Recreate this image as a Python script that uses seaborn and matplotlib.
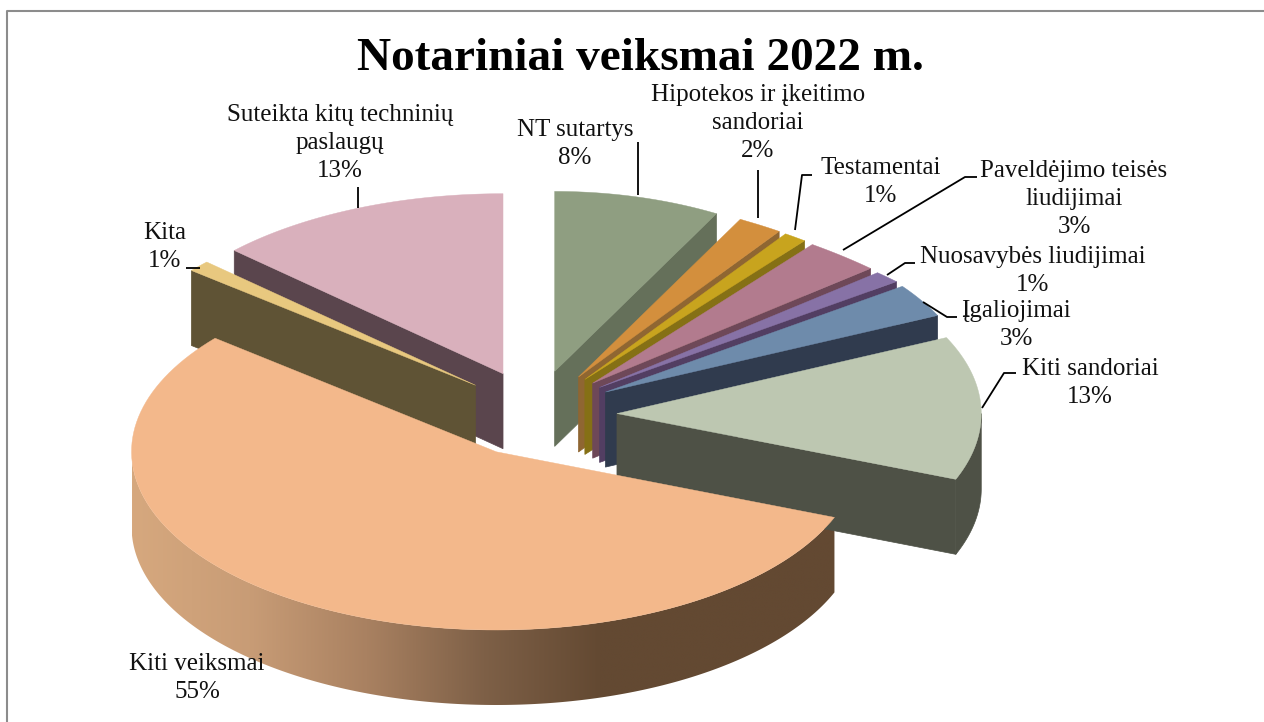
# Notariniai veiksmai 2022 m. - exploded 3D pie drawn on a pixel sized axes
import numpy as np
import matplotlib
matplotlib.use("Agg")
import matplotlib.pyplot as plt
from matplotlib.patches import Polygon
import seaborn as sns

# chart data
names = ["NT sutartys", "Hipotekos ir įkeitimo\nsandoriai", "Testamentai",
         "Paveldėjimo teisės\nliudijimai", "Nuosavybės liudijimai", "Įgaliojimai",
         "Kiti sandoriai", "Kiti veiksmai", "Kita",
         "Suteikta kitų techninių\npaslaugų"]
values = [8, 2, 1, 3, 1, 3, 13, 55, 1, 13]
title = "Notariniai veiksmai 2022 m."

# styles for each slice
top_colors = ["#8F9E81", "#D38F3D", "#C8A41E", "#B27B8E", "#8772A6",
              "#6E8BAB", "#BDC7B1", "#F3B88B", "#E8C87F", "#D9B0BC"]
wall_colors = ["#65705A", "#8F6632", "#857015", "#6E4858", "#523E62",
               "#303B4E", "#4E5146", "#634932", "#5F5335", "#5A454D"]
explode = [1, 1, 1, 1, 1, 1, 1, 0.95, 1, 1]
radius = [1, 1, 1, 1, 1, 1, 0.992, 0.99, 1, 1]
draw_order = [9, 0, 1, 2, 3, 4, 5, 8, 6, 7]

# label centres and leader lines, in pixels
label_xy = [(575, 144), (758, 123), (881, 182), (1074, 199), (1033, 271),
            (1016, 325), (1090, 383), (197, 678), (165, 247), (340, 143)]
leaders = [[(638, 142), (638, 195)],
           [(758, 170), (758, 218)],
           [(812, 175), (802, 175), (795, 230)],
           [(977, 177), (965, 177), (843, 250)],
           [(915, 263), (905, 263), (887, 275)],
           [(957, 317), (947, 317), (923, 302)],
           [(1016, 373), (1004, 373), (982, 408)],
           [(186, 268), (200, 268)],
           [(358, 187), (358, 208)]]

centre = (534, 415)
explode_right, explode_left, explode_y = 83, 78, 45
ry = 180
height = 75

sns.set_theme(style="white")
plt.rcParams["font.family"] = ["Liberation Serif", "DejaVu Serif"]

fig = plt.figure(figsize=(12.64, 7.22), dpi=100)
ax = fig.add_axes([0, 0, 1, 1])
ax.set_xlim(0, 1264)
ax.set_ylim(722, 0)
ax.axis("off")

# thin chart frame
ax.plot([7, 7, 1264], [722, 11, 11], color="#8C8C8C", lw=1.5)

gradient = sns.blend_palette(["#D6A87E", "#C89C76", "#A98161", "#7E6047", "#634932",
                              "#634932", "#634932"], 256)


def arc(apex, theta, scale):
    # the back right of the pie is a little narrower
    rx = np.interp(theta, [0, 30, 40, 50, 54, 360], [334, 336, 345, 360, 367, 369])
    return (apex[0] + scale * rx * np.sin(np.radians(theta)),
            apex[1] - scale * ry * np.cos(np.radians(theta)))


edges = np.cumsum([0] + values) / sum(values) * 360

for i in draw_order:
    start, end = edges[i], edges[i + 1]
    mid = np.radians((start + end) / 2)
    spread = explode_right if np.sin(mid) > 0 else explode_left
    apex = (centre[0] + explode[i] * spread * np.sin(mid),
            centre[1] - explode[i] * explode_y * np.cos(mid))

    # cut faces that look towards the viewer
    for theta, visible in [(start, np.sin(np.radians(start)) < -1e-6),
                           (end, np.sin(np.radians(end)) > 1e-6)]:
        if visible:
            ox, oy = arc(apex, theta, radius[i])
            ax.fill([apex[0], ox, ox, apex[0]],
                    [apex[1], oy, oy + height, apex[1] + height],
                    color=wall_colors[i], lw=0.5)

    # rim, only the front half can be seen
    lo, hi = max(start, 90), min(end, 270)
    if lo < hi:
        thetas = np.linspace(lo, hi, 200)
        xs, ys = arc(apex, thetas, radius[i])
        rim = np.c_[np.r_[xs, xs[::-1]], np.r_[ys, ys[::-1] + height]]
        if i == 7:
            # biggest slice gets the light to dark shading of the original
            shade = ax.imshow(np.array(gradient)[None, :, :], aspect="auto",
                              extent=[xs.min(), xs.max(), rim[:, 1].max(), rim[:, 1].min()],
                              interpolation="bilinear")
            shade.set_clip_path(Polygon(rim, transform=ax.transData))
            ax.set_xlim(0, 1264)
            ax.set_ylim(722, 0)
        else:
            ax.fill(rim[:, 0], rim[:, 1], color=wall_colors[i], lw=0.5)

    # top face
    thetas = np.linspace(start, end, 120)
    xs, ys = arc(apex, thetas, radius[i])
    ax.fill(np.r_[apex[0], xs], np.r_[apex[1], ys], color=top_colors[i], lw=0.3)

for line in leaders:
    pts = np.array(line)
    ax.plot(pts[:, 0], pts[:, 1], color="black", lw=1.3, solid_capstyle="butt")

for name, val, (x, y) in zip(names, values, label_xy):
    ax.text(x, y, f"{name}\n{val}%", ha="center", va="center", fontsize=18,
            color="#111111", linespacing=1.38)

ax.text(640, 59, title, ha="center", va="center", fontsize=34, fontweight="bold", color="black")

fig.savefig("out.png", dpi=100)
